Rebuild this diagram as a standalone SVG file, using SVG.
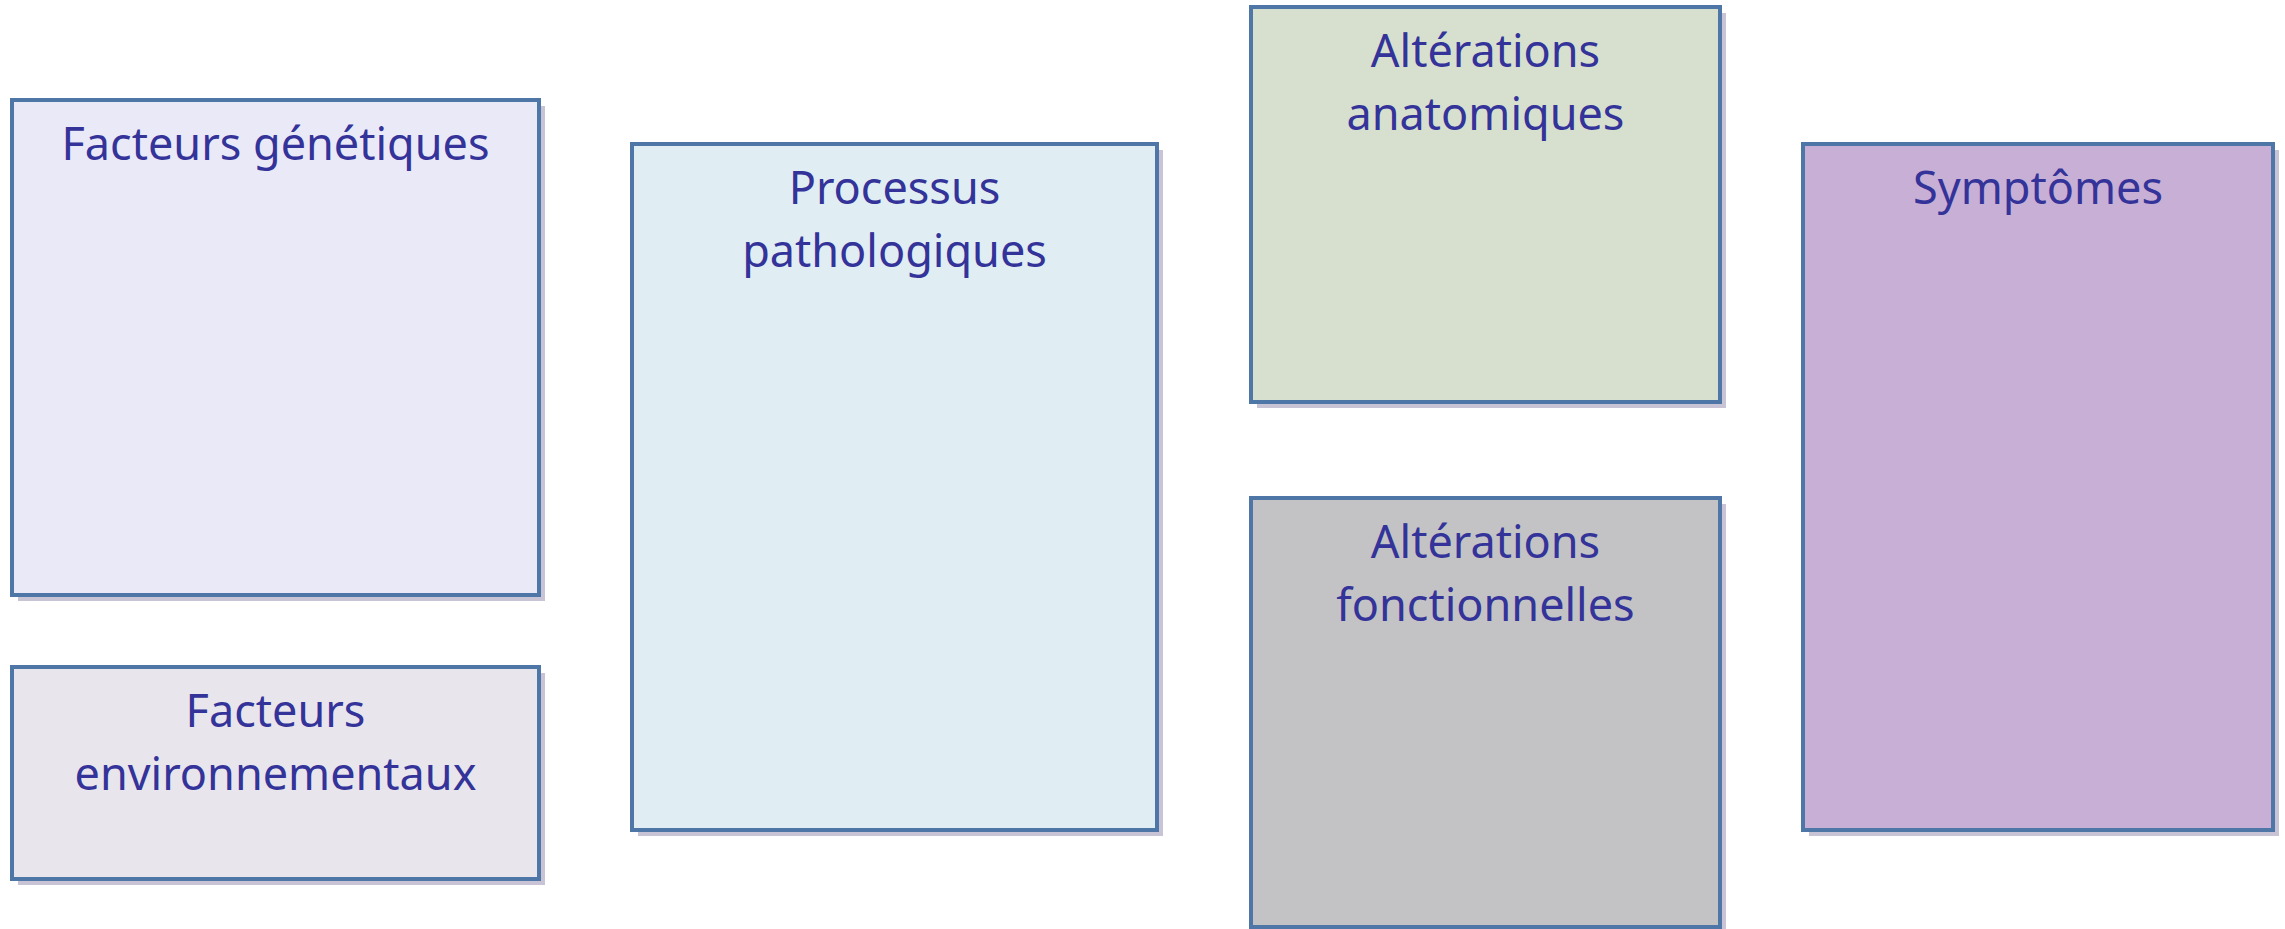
<svg xmlns="http://www.w3.org/2000/svg" width="2285" height="929" viewBox="0 0 2285 929">
<style>
.shadow{fill:#c9c3d6}
.box{stroke:#4e76a7;stroke-width:4}
.lbl{font-family:"Noto Sans","Open Sans",sans-serif;font-size:45px;fill:#333399;text-anchor:middle}
</style>
<rect width="2285" height="929" fill="#ffffff"/>
<g id="connectors"></g>
<g id="facteurs-genetiques">
<rect class="shadow" x="18" y="106" width="527" height="495"/>
<rect class="box" x="12" y="100" width="527" height="495" fill="#eae9f8"/>
<text class="lbl" x="275.5" y="160">Facteurs génétiques</text>
</g>
<g id="facteurs-environnementaux">
<rect class="shadow" x="18" y="673" width="527" height="212"/>
<rect class="box" x="12" y="667" width="527" height="212" fill="#e8e5ed"/>
<text class="lbl" x="275.5" y="727">Facteurs</text>
<text class="lbl" x="275.5" y="790">environnementaux</text>
</g>
<g id="processus-pathologiques">
<rect class="shadow" x="638" y="150" width="525" height="686"/>
<rect class="box" x="632" y="144" width="525" height="686" fill="#e0edf3"/>
<text class="lbl" x="894.5" y="204">Processus</text>
<text class="lbl" x="894.5" y="267">pathologiques</text>
</g>
<g id="alterations-anatomiques">
<rect class="shadow" x="1257" y="13" width="469" height="395"/>
<rect class="box" x="1251" y="7" width="469" height="395" fill="#d7e0cf"/>
<text class="lbl" x="1485.5" y="67">Altérations</text>
<text class="lbl" x="1485.5" y="130">anatomiques</text>
</g>
<g id="alterations-fonctionnelles">
<rect class="shadow" x="1257" y="504" width="469" height="429"/>
<rect class="box" x="1251" y="498" width="469" height="429" fill="#c3c3c5"/>
<text class="lbl" x="1485.5" y="558">Altérations</text>
<text class="lbl" x="1485.5" y="621">fonctionnelles</text>
</g>
<g id="symptomes">
<rect class="shadow" x="1809" y="150" width="470" height="686"/>
<rect class="box" x="1803" y="144" width="470" height="686" fill="#c8afd5"/>
<text class="lbl" x="2038" y="204">Symptômes</text>
</g>
</svg>
